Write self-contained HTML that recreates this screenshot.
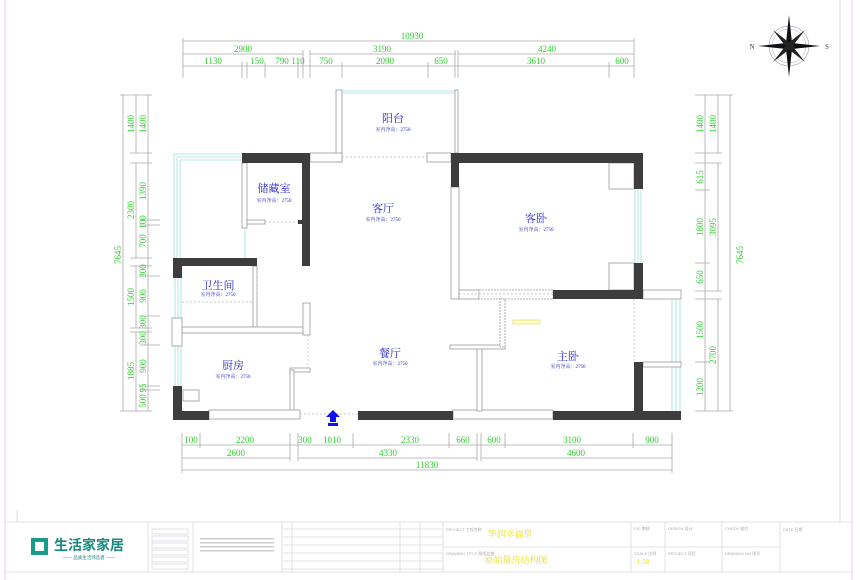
<!DOCTYPE html>
<html><head><meta charset="utf-8"><style>
html,body{margin:0;padding:0;background:#fff;}
svg{display:block;}
.d{fill:#2ecc2e;font-family:"Liberation Serif","Noto Serif CJK SC",serif;font-size:9px;text-anchor:middle;}
.r{fill:#2a2ac8;font-family:"Liberation Serif","Noto Serif CJK SC",serif;font-size:11px;text-anchor:middle;}
.s{fill:#2a2ac8;font-family:"Liberation Serif","Noto Serif CJK SC",serif;font-size:5px;text-anchor:middle;}
.g{fill:#aaa;font-family:"Liberation Sans","Noto Sans CJK SC",sans-serif;font-size:4px;}
</style></head><body>
<svg width="860" height="580" viewBox="0 0 860 580" xmlns="http://www.w3.org/2000/svg">
<rect width="860" height="580" fill="#fff"/>
<line x1="5" y1="0" x2="5" y2="580" stroke="#e8c8e8"/>
<line x1="852" y1="0" x2="852" y2="580" stroke="#e8c8e8"/>
<line x1="17" y1="510" x2="17" y2="522" stroke="#ddd"/>
<line x1="840" y1="0" x2="840" y2="522" stroke="#ddd"/>
<g stroke="#aaa" stroke-width="0.8">
<line x1="183" y1="41" x2="634" y2="41"/>
<line x1="183" y1="54" x2="303" y2="54"/><line x1="310" y1="54" x2="456" y2="54"/><line x1="458" y1="54" x2="634" y2="54"/>
<line x1="183" y1="66" x2="634" y2="66"/>
<line x1="183" y1="38" x2="183" y2="78"/><line x1="634" y1="38" x2="634" y2="78"/>
<line x1="242" y1="62" x2="242" y2="78"/><line x1="247" y1="62" x2="247" y2="78"/><line x1="265" y1="62" x2="265" y2="78"/><line x1="298" y1="62" x2="298" y2="78"/><line x1="303" y1="50" x2="303" y2="78"/><line x1="310" y1="50" x2="310" y2="78"/><line x1="342" y1="62" x2="342" y2="78"/><line x1="428" y1="62" x2="428" y2="78"/><line x1="455" y1="50" x2="455" y2="78"/><line x1="458" y1="50" x2="458" y2="78"/><line x1="609" y1="62" x2="609" y2="78"/>
</g>
<text class="d" x="412" y="39">10930</text>
<text class="d" x="243" y="52">2900</text><text class="d" x="382" y="52">3190</text><text class="d" x="547" y="52">4240</text>
<text class="d" x="213" y="64">1130</text><text class="d" x="257" y="64">150</text><text class="d" x="282" y="64">790</text><text class="d" x="298" y="64">110</text><text class="d" x="326" y="64">750</text><text class="d" x="385" y="64">2090</text><text class="d" x="441" y="64">650</text><text class="d" x="536" y="64">3610</text><text class="d" x="622" y="64">600</text>
<g stroke="#aaa" stroke-width="0.8">
<line x1="123" y1="95" x2="123" y2="411"/><line x1="136" y1="95" x2="136" y2="153"/><line x1="136" y1="163" x2="136" y2="258"/><line x1="136" y1="266" x2="136" y2="328"/><line x1="136" y1="332" x2="136" y2="411"/>
<line x1="148" y1="95" x2="148" y2="411"/>
<line x1="120" y1="95" x2="152" y2="95"/><line x1="130" y1="153" x2="152" y2="153"/><line x1="130" y1="163" x2="152" y2="163"/><line x1="140" y1="220" x2="160" y2="220"/><line x1="140" y1="225" x2="160" y2="225"/><line x1="130" y1="258" x2="152" y2="258"/><line x1="130" y1="266" x2="152" y2="266"/><line x1="140" y1="276" x2="160" y2="276"/><line x1="140" y1="316" x2="160" y2="316"/><line x1="130" y1="328" x2="152" y2="328"/><line x1="130" y1="332" x2="152" y2="332"/><line x1="140" y1="345" x2="160" y2="345"/><line x1="140" y1="386" x2="160" y2="386"/><line x1="140" y1="390" x2="160" y2="390"/><line x1="120" y1="411" x2="152" y2="411"/>
</g>
<g class="d">
<text transform="translate(121,255) rotate(-90)">7645</text>
<text transform="translate(134,124) rotate(-90)">1400</text><text transform="translate(146,124) rotate(-90)">1400</text>
<text transform="translate(134,210) rotate(-90)">2300</text><text transform="translate(146,191) rotate(-90)">1390</text><text transform="translate(146,222) rotate(-90)">100</text><text transform="translate(146,241) rotate(-90)">700</text>
<text transform="translate(134,297) rotate(-90)">1500</text><text transform="translate(146,271) rotate(-90)">300</text><text transform="translate(146,296) rotate(-90)">900</text><text transform="translate(146,322) rotate(-90)">300</text>
<text transform="translate(134,371) rotate(-90)">1885</text><text transform="translate(146,338) rotate(-90)">300</text><text transform="translate(146,366) rotate(-90)">900</text><text transform="translate(146,388) rotate(-90)">95</text><text transform="translate(146,401) rotate(-90)">500</text>
</g>
<g stroke="#aaa" stroke-width="0.8">
<line x1="705" y1="95" x2="705" y2="411"/><line x1="718" y1="95" x2="718" y2="153"/><line x1="718" y1="163" x2="718" y2="291"/><line x1="718" y1="299" x2="718" y2="411"/><line x1="730" y1="95" x2="730" y2="411"/>
<line x1="695" y1="95" x2="733" y2="95"/><line x1="695" y1="153" x2="722" y2="153"/><line x1="695" y1="163" x2="722" y2="163"/><line x1="695" y1="190" x2="710" y2="190"/><line x1="695" y1="263" x2="710" y2="263"/><line x1="695" y1="291" x2="722" y2="291"/><line x1="695" y1="299" x2="722" y2="299"/><line x1="695" y1="362" x2="710" y2="362"/><line x1="695" y1="411" x2="733" y2="411"/>
</g>
<g class="d">
<text transform="translate(703,124) rotate(-90)">1400</text><text transform="translate(716,124) rotate(-90)">1400</text>
<text transform="translate(703,177) rotate(-90)">615</text><text transform="translate(703,227) rotate(-90)">1800</text><text transform="translate(716,227) rotate(-90)">3095</text><text transform="translate(703,277) rotate(-90)">650</text>
<text transform="translate(703,330) rotate(-90)">1500</text><text transform="translate(716,355) rotate(-90)">2700</text><text transform="translate(703,387) rotate(-90)">1200</text>
<text transform="translate(743,255) rotate(-90)">7645</text>
</g>
<g stroke="#aaa" stroke-width="0.8">
<line x1="182" y1="445" x2="672" y2="445"/><line x1="182" y1="458" x2="290" y2="458"/><line x1="298" y1="458" x2="477" y2="458"/><line x1="481" y1="458" x2="672" y2="458"/><line x1="182" y1="470" x2="672" y2="470"/>
<line x1="182" y1="433" x2="182" y2="473"/><line x1="200" y1="433" x2="200" y2="448"/><line x1="290" y1="433" x2="290" y2="461"/><line x1="298" y1="433" x2="298" y2="461"/><line x1="353" y1="433" x2="353" y2="448"/><line x1="449" y1="433" x2="449" y2="448"/><line x1="477" y1="433" x2="477" y2="461"/><line x1="481" y1="433" x2="481" y2="461"/><line x1="505" y1="433" x2="505" y2="448"/><line x1="633" y1="433" x2="633" y2="448"/><line x1="672" y1="433" x2="672" y2="473"/>
</g>
<text class="d" x="191" y="443">100</text><text class="d" x="245" y="443">2200</text><text class="d" x="305" y="443">300</text><text class="d" x="332" y="443">1010</text><text class="d" x="410" y="443">2330</text><text class="d" x="463" y="443">660</text><text class="d" x="494" y="443">600</text><text class="d" x="572" y="443">3100</text><text class="d" x="652" y="443">900</text>
<text class="d" x="236" y="456">2600</text><text class="d" x="388" y="456">4330</text><text class="d" x="576" y="456">4600</text>
<text class="d" x="427" y="468">11830</text>
<g stroke="#9ee0e0" stroke-width="0.8" fill="none">
<line x1="174" y1="154" x2="174" y2="258"/><line x1="177" y1="157" x2="177" y2="258"/><line x1="180" y1="160" x2="180" y2="258"/>
<line x1="174" y1="154" x2="242" y2="154"/><line x1="177" y1="157" x2="242" y2="157"/><line x1="180" y1="160" x2="242" y2="160"/>
<line x1="175" y1="278" x2="175" y2="386"/><line x1="178" y1="278" x2="178" y2="386"/><line x1="181" y1="278" x2="181" y2="386"/>
<line x1="343" y1="91" x2="457" y2="91"/><line x1="343" y1="93" x2="455" y2="93"/>
<line x1="635" y1="190" x2="635" y2="263"/><line x1="638" y1="190" x2="638" y2="263"/><line x1="641" y1="190" x2="641" y2="263"/>
<line x1="672" y1="300" x2="672" y2="411"/><line x1="676" y1="300" x2="676" y2="411"/><line x1="680" y1="300" x2="680" y2="411"/>
<line x1="245" y1="228" x2="245" y2="258"/>
</g>
<g fill="#fff" stroke="#999" stroke-width="0.8">
<rect x="336" y="90" width="6" height="72"/><rect x="455" y="90" width="3" height="63"/>
<rect x="310" y="153" width="32" height="9"/><rect x="427" y="153" width="24" height="9"/>
<rect x="242" y="163" width="5" height="65"/><rect x="247" y="220" width="18" height="4"/>
<rect x="253" y="266" width="4" height="61"/><rect x="182" y="327" width="121" height="6"/>
<rect x="303" y="303" width="7" height="32"/>
<rect x="290" y="368" width="20" height="4"/><rect x="290" y="370" width="4" height="41"/>
<rect x="172" y="318" width="10" height="28"/>
<rect x="209" y="410" width="91" height="9"/><rect x="453" y="410" width="100" height="9"/>
<rect x="451" y="187" width="8" height="112"/><rect x="459" y="290" width="20" height="9"/><rect x="479" y="290" width="74" height="9" stroke-dasharray="2,1"/>
<rect x="609" y="163" width="25" height="26"/><rect x="609" y="263" width="25" height="27"/>
<rect x="643" y="290" width="38" height="9"/><rect x="643" y="362" width="38" height="5"/>
<rect x="477" y="347" width="5" height="64"/><rect x="450" y="345" width="55" height="4"/>
<rect x="500" y="299" width="5" height="48" stroke-dasharray="2,1"/>
<rect x="183" y="390" width="16" height="11"/>
</g>
<g stroke="#bbb" stroke-width="0.7" stroke-dasharray="2,2">
<line x1="342" y1="157" x2="427" y2="157"/><line x1="265" y1="222" x2="300" y2="222"/><line x1="182" y1="302" x2="253" y2="302"/><line x1="257" y1="266" x2="257" y2="303"/>
<line x1="300" y1="414" x2="358" y2="414"/><line x1="308" y1="335" x2="308" y2="368"/><line x1="459" y1="294" x2="553" y2="294"/><line x1="634" y1="299" x2="634" y2="362"/>
</g>
<rect x="513" y="320" width="27" height="4" fill="#ffffc0" stroke="#e0d060" stroke-width="0.6"/>
<g fill="#3d3d3d">
<rect x="242" y="153" width="68" height="10"/><rect x="302" y="153" width="8" height="113"/><rect x="298" y="220" width="4" height="4"/>
<rect x="173" y="258" width="84" height="8"/><rect x="173" y="258" width="9" height="20"/>
<rect x="173" y="386" width="9" height="34"/><rect x="173" y="411" width="36" height="9"/>
<rect x="358" y="411" width="95" height="9"/><rect x="553" y="411" width="128" height="9"/>
<rect x="451" y="153" width="192" height="10"/><rect x="451" y="153" width="8" height="34"/><rect x="634" y="153" width="9" height="36"/>
<rect x="634" y="263" width="9" height="36"/><rect x="553" y="290" width="90" height="9"/>
<rect x="634" y="362" width="9" height="58"/>
</g>
<path d="M333,410 l-7,7 h4 v5 h6 v-5 h4 z" fill="#1010f0"/><rect x="328" y="423" width="10" height="3" fill="#1010f0"/>
<text class="r" x="393" y="122">阳台</text><text class="s" x="393" y="131">室内净高：2750</text>
<text class="r" x="274" y="192">储藏室</text><text class="s" x="274" y="202">室内净高：2750</text>
<text class="r" x="383" y="212">客厅</text><text class="s" x="383" y="221">室内净高：2750</text>
<text class="r" x="536" y="222">客卧</text><text class="s" x="536" y="231">室内净高：2750</text>
<text class="r" x="218" y="289">卫生间</text><text class="s" x="218" y="296">室内净高：2750</text>
<text class="r" x="233" y="369">厨房</text><text class="s" x="233" y="378">室内净高：2750</text>
<text class="r" x="390" y="357">餐厅</text><text class="s" x="390" y="365">室内净高：2750</text>
<text class="r" x="568" y="360">主卧</text><text class="s" x="568" y="368">室内净高：2750</text>
<g transform="translate(789,46)">
<circle r="20" fill="none" stroke="#aab" stroke-width="0.7"/><circle r="17" fill="none" stroke="#aab" stroke-width="0.5"/>
<path d="M0,-31 L3,-3 L31,0 L3,3 L0,31 L-3,3 L-31,0 L-3,-3 Z" fill="#111"/>
<path d="M-16,-16 L2,-2 L16,16 L-2,2 Z M16,-16 L2,2 L-16,16 L-2,-2 Z" fill="#222"/>
<text x="-37" y="3" font-family="Liberation Serif,serif" font-size="7" fill="#335" text-anchor="middle">N</text>
<text x="38" y="3" font-family="Liberation Serif,serif" font-size="7" fill="#335" text-anchor="middle">S</text>
</g>
<g stroke="#d8d8e4" stroke-width="0.8" fill="none">
<line x1="5" y1="522" x2="852" y2="522"/><line x1="5" y1="572" x2="852" y2="572"/>
<line x1="148" y1="522" x2="148" y2="572"/><line x1="193" y1="522" x2="193" y2="572"/><line x1="282" y1="522" x2="282" y2="572"/><line x1="443" y1="522" x2="443" y2="572"/><line x1="631" y1="522" x2="631" y2="572"/><line x1="665" y1="522" x2="665" y2="572"/><line x1="722" y1="522" x2="722" y2="572"/><line x1="780" y1="522" x2="780" y2="572"/>
<line x1="443" y1="547" x2="780" y2="547"/>
<rect x="152" y="529" width="36" height="5"/><rect x="152" y="536" width="36" height="5"/><rect x="152" y="543" width="36" height="5"/><rect x="152" y="550" width="36" height="5"/><rect x="152" y="557" width="36" height="5"/><rect x="152" y="564" width="36" height="5"/>
<line x1="282" y1="529" x2="443" y2="529"/><line x1="282" y1="537" x2="443" y2="537"/><line x1="282" y1="545" x2="443" y2="545"/><line x1="282" y1="553" x2="443" y2="553"/><line x1="282" y1="561" x2="443" y2="561"/><line x1="282" y1="569" x2="443" y2="569"/>
<line x1="292" y1="522" x2="292" y2="572"/><line x1="400" y1="522" x2="400" y2="572"/><line x1="420" y1="522" x2="420" y2="572"/>
</g>
<g fill="#1a9a8a"><rect x="31" y="538" width="17" height="17"/></g>
<rect x="35" y="542" width="9" height="9" fill="#fff"/>
<text x="89" y="550" font-family="Liberation Sans,Noto Sans CJK SC,sans-serif" font-size="14" font-weight="bold" fill="#1a8a80" text-anchor="middle">生活家家居</text>
<text x="89" y="559" font-family="Liberation Sans,Noto Sans CJK SC,sans-serif" font-size="4.5" fill="#1a8a80" text-anchor="middle">—— 品质生活缔造者 ——</text>
<g fill="#ccc"><rect x="200" y="538" width="74" height="1.5"/><rect x="200" y="542" width="74" height="1.5"/><rect x="200" y="546" width="74" height="1.5"/><rect x="200" y="550" width="74" height="1.5"/></g>
<text class="g" x="446" y="531">PROJECT 工程名称</text><text class="g" x="446" y="555">DRAWING TITLE 图纸名称</text>
<text class="g" x="634" y="530">PIC 审核</text><text class="g" x="634" y="555">SCALE 比例</text>
<text class="g" x="668" y="530">DESIGN 设计</text><text class="g" x="668" y="555">PROJECT 项目</text>
<text class="g" x="725" y="530">CHECK 校对</text><text class="g" x="725" y="555">DRAWING NO 图号</text>
<text class="g" x="783" y="531">DATE 日期</text>
<text x="510" y="537" font-family="Liberation Serif,Noto Serif CJK SC,serif" font-size="9" fill="#e8e020" text-anchor="middle">华润幸福里</text>
<text x="516" y="563" font-family="Liberation Serif,Noto Serif CJK SC,serif" font-size="9" fill="#e8e020" text-anchor="middle">原始量房结构图</text>
<text x="643" y="564" font-family="Liberation Serif,serif" font-size="7" fill="#e8e020" text-anchor="middle">1:50</text>
</svg>
</body></html>
